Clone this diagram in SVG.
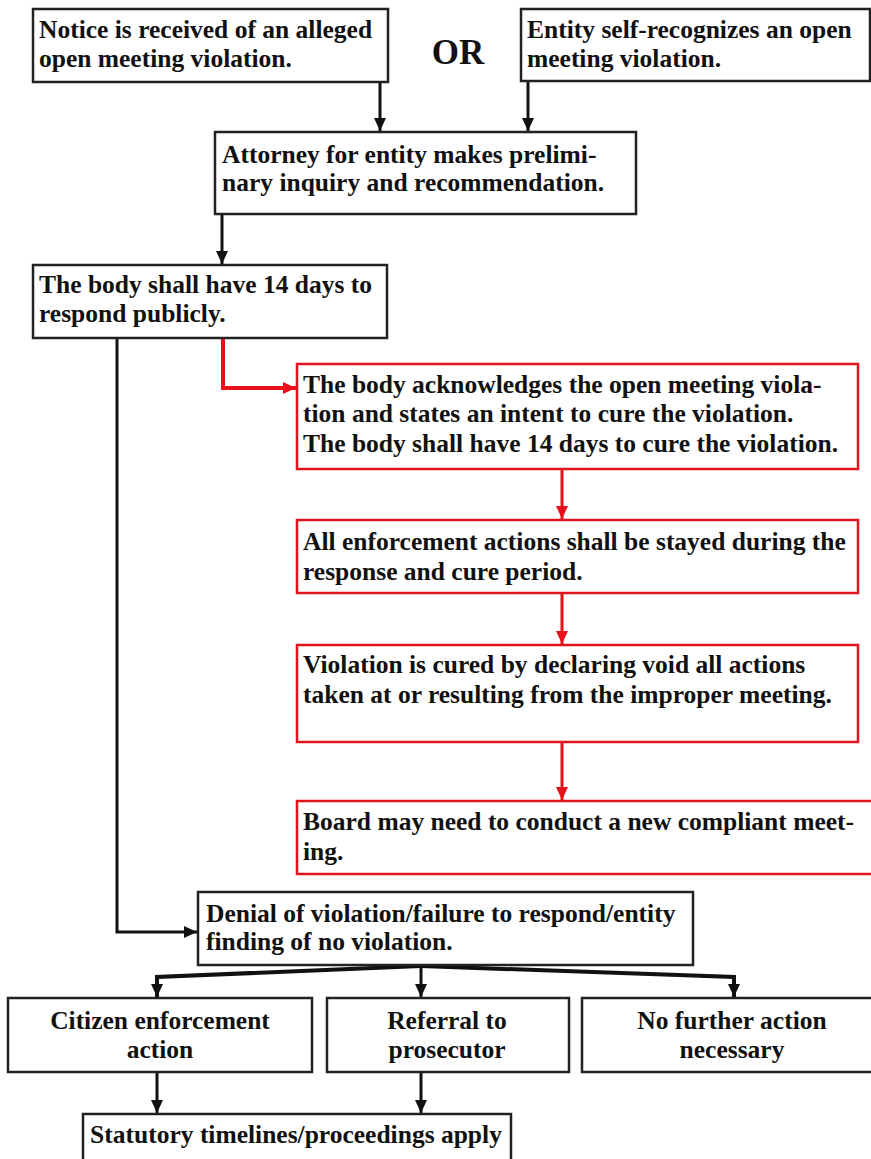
<svg xmlns="http://www.w3.org/2000/svg" width="871" height="1159" viewBox="0 0 871 1159">
<style>
.b{fill:#fff;stroke:#222;stroke-width:2.5}
.r{fill:#fff;stroke:#e0141e;stroke-width:2.5}
text{font-family:"Liberation Serif","Times New Roman",serif;font-weight:bold;font-size:25.5px;fill:#111}
.c{text-anchor:middle}
.k{fill:none;stroke:#111;stroke-width:3}
.rc{fill:none;stroke:#e8101a;stroke-width:3}
</style>
<defs>
<marker id="ab" markerUnits="userSpaceOnUse" markerWidth="14" markerHeight="14" viewBox="0 0 14 14" refX="13" refY="7" orient="auto"><path d="M0,1 L13,7 L0,13 Z" fill="#111"/></marker>
<marker id="ar" markerUnits="userSpaceOnUse" markerWidth="14" markerHeight="14" viewBox="0 0 14 14" refX="13" refY="7" orient="auto"><path d="M0,1 L13,7 L0,13 Z" fill="#e8101a"/></marker>
</defs>
<rect width="871" height="1159" fill="#fff"/>
<g id="connectors">
<path class="k" d="M380,82 V131" marker-end="url(#ab)"/>
<path class="k" d="M528,82 V131" marker-end="url(#ab)"/>
<path class="k" d="M222,214 V264" marker-end="url(#ab)"/>
<path class="k" d="M117,338 V932 H197" marker-end="url(#ab)"/>
<path class="rc" d="M223,338 V388 H296" style="stroke-width:4" marker-end="url(#ar)"/>
<path class="rc" d="M562,469 V519" marker-end="url(#ar)"/>
<path class="rc" d="M562,593 V644" marker-end="url(#ar)"/>
<path class="rc" d="M562,742 V800" marker-end="url(#ar)"/>
<path class="k" d="M421,966 L157,977 V997" style="stroke-width:4" marker-end="url(#ab)"/>
<path class="k" d="M421,966 L734,977 V997" style="stroke-width:4" marker-end="url(#ab)"/>
<path class="k" d="M421,966 V997" marker-end="url(#ab)"/>
<path class="k" d="M157,1072 V1113" marker-end="url(#ab)"/>
<path class="k" d="M421,1072 V1113" marker-end="url(#ab)"/>
</g>
<g id="n1"><rect class="b" x="33" y="9" width="355" height="73"/><text x="39" y="38">Notice is received of an alleged</text><text x="39" y="67">open meeting violation.</text></g>
<g id="or"><text class="c" x="458" y="64" style="font-size:35px">OR</text></g>
<g id="n2"><rect class="b" x="521" y="9" width="349" height="72"/><text x="527" y="38">Entity self-recognizes an open</text><text x="527" y="67">meeting violation.</text></g>
<g id="n3"><rect class="b" x="215" y="132" width="421" height="82"/><text x="222" y="163">Attorney for entity makes prelimi-</text><text x="222" y="191">nary inquiry and recommendation.</text></g>
<g id="n4"><rect class="b" x="33" y="265" width="354" height="73"/><text x="39" y="293">The body shall have 14 days to</text><text x="39" y="322">respond publicly.</text></g>
<g id="n5"><rect class="r" x="297" y="364" width="561" height="105"/><text x="303" y="393">The body acknowledges the open meeting viola-</text><text x="303" y="422">tion and states an intent to cure the violation.</text><text x="303" y="452">The body shall have 14 days to cure the violation.</text></g>
<g id="n6"><rect class="r" x="297" y="520" width="561" height="73"/><text x="303" y="550">All enforcement actions shall be stayed during the</text><text x="303" y="580">response and cure period.</text></g>
<g id="n7"><rect class="r" x="297" y="645" width="561" height="97"/><text x="303" y="673">Violation is cured by declaring void all actions</text><text x="303" y="703">taken at or resulting from the improper meeting.</text></g>
<g id="n8"><rect class="r" x="297" y="801" width="580" height="73"/><text x="303" y="830">Board may need to conduct a new compliant meet-</text><text x="303" y="860">ing.</text></g>
<g id="n9"><rect class="b" x="198" y="892" width="495" height="73"/><text x="206" y="922">Denial of violation/failure to respond/entity</text><text x="206" y="950">finding of no violation.</text></g>
<g id="n10"><rect class="b" x="8" y="998" width="304" height="74"/><text class="c" x="160" y="1029">Citizen enforcement</text><text class="c" x="160" y="1058">action</text></g>
<g id="n11"><rect class="b" x="327" y="998" width="242" height="74"/><text class="c" x="447" y="1029">Referral to</text><text class="c" x="447" y="1058">prosecutor</text></g>
<g id="n12"><rect class="b" x="582" y="998" width="295" height="74"/><text class="c" x="732" y="1029">No further action</text><text class="c" x="732" y="1058">necessary</text></g>
<g id="n13"><rect class="b" x="83" y="1114" width="428" height="60"/><text class="c" x="296" y="1143">Statutory timelines/proceedings apply</text></g>
</svg>
